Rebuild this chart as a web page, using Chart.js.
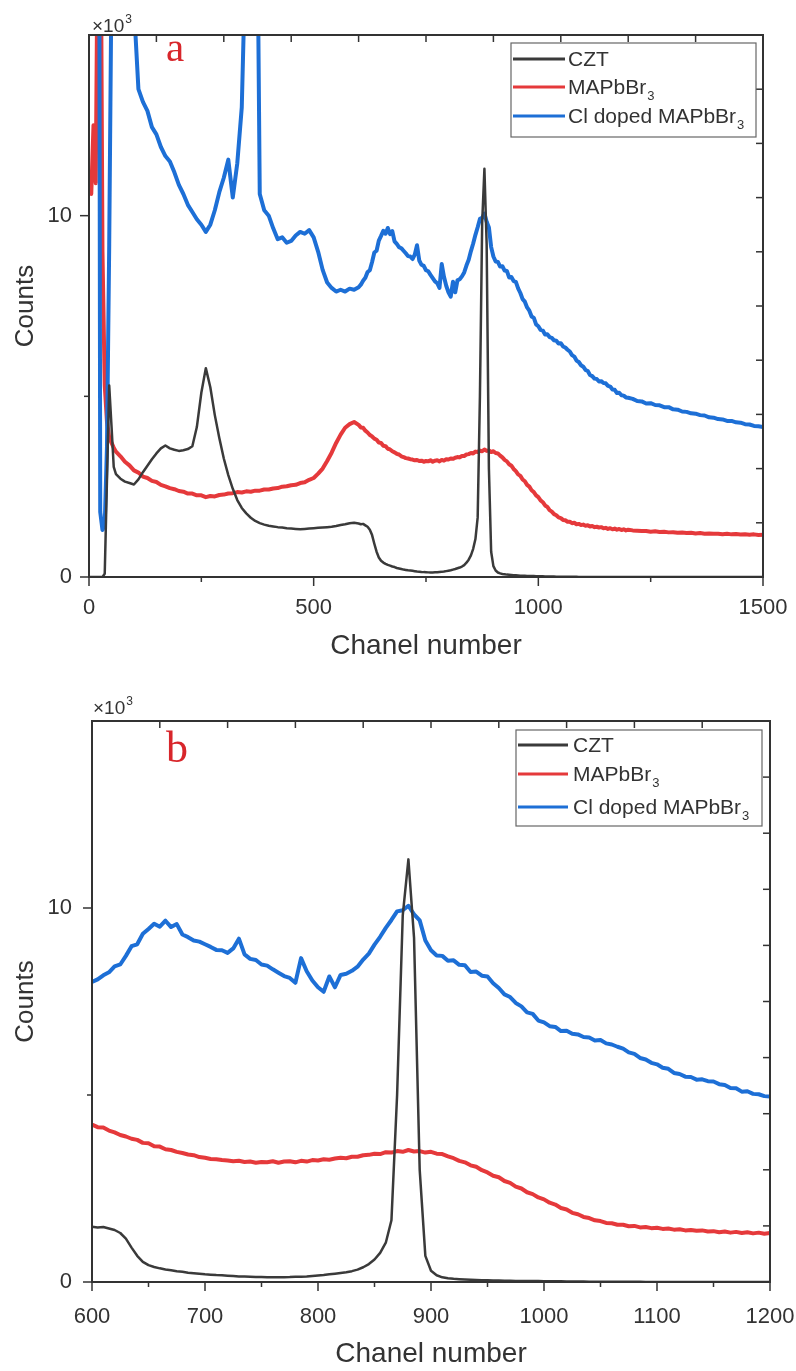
<!DOCTYPE html>
<html>
<head>
<meta charset="utf-8">
<script src="https://cdn.jsdelivr.net/npm/chart.js@4.4.1/dist/chart.umd.min.js"></script>
<style>
  html, body { margin: 0; padding: 0; background: #ffffff; }
  #wrap { position: relative; width: 796px; height: 1371px; }
  canvas { position: absolute; left: 0; }
  #specA { top: 0; }
  #specB { top: 690px; }
</style>
</head>
<body>
<div id="wrap">
  <canvas id="specA" width="796" height="690" style="width:796px;height:690px"></canvas>
  <canvas id="specB" width="796" height="681" style="width:796px;height:681px"></canvas>
</div>
<script>
// ---- channel grid: finer sampling around the photopeak window ----
function span(from, to, step) {
  const out = [];
  for (let c = from; c <= to; c += step) out.push(c);
  return out;
}
const channels = [].concat(span(0, 60, 5), span(70, 590, 10), span(600, 1200, 5), span(1210, 1500, 10));

// ---- series names ----
const seriesNames = ['CZT', 'MAPbBr₃', 'Cl doped MAPbBr₃'];

// ---- counts per channel (same order as `channels`) ----
const cztCounts = [
  // 0 - 60
  0, 0, 0, 0, 0, 0, 0, 90, 2700, 5300, 4200, 3050, 2850,
  // 70 - 590
  2720, 2640, 2600, 2560, 2700, 2900, 3080, 3260, 3420, 3560,
  3640, 3560, 3520, 3490, 3510, 3540, 3620, 4150, 5100, 5780,
  5250, 4480, 3850, 3280, 2820, 2440, 2130, 1910, 1760, 1640,
  1550, 1490, 1450, 1420, 1400, 1380, 1370, 1350, 1340, 1330,
  1320, 1330, 1340, 1350, 1360, 1370, 1380, 1390, 1410, 1440,
  1460, 1490, 1500,
  // 600 - 1200
  1480, 1460, 1470, 1430, 1390, 1310, 1160, 920, 700, 540,
  450, 400, 365, 335, 315, 290, 275, 250, 235, 220,
  205, 195, 185, 180, 170, 160, 150, 148, 140, 135,
  132, 128, 125, 127, 130, 132, 138, 142, 150, 162,
  175, 188, 205, 222, 242, 262, 290, 330, 395, 480,
  600, 780, 1050, 1650, 5000, 9800, 11300, 9200, 3000, 700,
  300, 180, 125, 100, 85, 75, 66, 60, 55, 50,
  46, 42, 38, 35, 32, 30, 28, 26, 25, 24,
  22, 20, 18, 17, 15, 14, 12, 11, 10, 9,
  8, 7, 6, 6, 5, 5, 4, 4, 3, 3,
  3, 2, 2, 2, 2, 2, 1, 1, 1, 1,
  1, 1, 1, 0, 0, 0, 0, 0, 0, 0,
  0,
  // 1210 - 1500
  0, 0, 0, 0, 0, 0, 0, 0, 0, 0,
  0, 0, 0, 0, 0, 0, 0, 0, 0, 0,
  0, 0, 0, 0, 0, 0, 0, 0, 0, 0
];

const mapbbr3Counts = [
  // 0 - 60
  null, 10600, 12500, 10900, 19000, 21000, 9000, 5300, 4300, 3850, 3720, 3580, 3470,
  // 70 - 590
  3340, 3190, 3090, 2950, 2890, 2780, 2740, 2660, 2630, 2550,
  2510, 2460, 2430, 2380, 2360, 2310, 2310, 2260, 2260, 2210,
  2240, 2230, 2270, 2280, 2310, 2320, 2350, 2340, 2370, 2360,
  2390, 2390, 2420, 2420, 2450, 2460, 2500, 2510, 2540, 2550,
  2600, 2620, 2690, 2740, 2860, 3000, 3210, 3440, 3710, 3940,
  4130, 4230, 4290,
  // 600 - 1200
  4210, 4140, 4130, 4050, 4000, 3930, 3890, 3830, 3800, 3720,
  3710, 3630, 3620, 3550, 3530, 3480, 3450, 3410, 3390, 3340,
  3320, 3290, 3280, 3260, 3250, 3230, 3240, 3210, 3220, 3190,
  3210, 3200, 3230, 3190, 3220, 3230, 3200, 3240, 3220, 3260,
  3250, 3280, 3270, 3300, 3320, 3310, 3350, 3350, 3390, 3400,
  3430, 3420, 3470, 3460, 3500, 3480, 3530, 3490, 3500, 3460,
  3480, 3430, 3420, 3360, 3310, 3240, 3200, 3120, 3080, 2990,
  2930, 2840, 2800, 2700, 2650, 2550, 2500, 2400, 2350, 2260,
  2210, 2120, 2070, 1980, 1940, 1850, 1810, 1740, 1710, 1650,
  1630, 1580, 1570, 1530, 1530, 1490, 1500, 1460, 1470, 1440,
  1450, 1420, 1430, 1400, 1410, 1380, 1390, 1370, 1380, 1350,
  1360, 1330, 1350, 1320, 1340, 1310, 1330, 1300, 1320, 1290,
  1310,
  // 1210 - 1500
  1290, 1280, 1270, 1275, 1255, 1265, 1245, 1250, 1235, 1240,
  1225, 1230, 1215, 1225, 1205, 1215, 1200, 1205, 1195, 1200,
  1185, 1195, 1180, 1190, 1175, 1180, 1170, 1180, 1165, 1170
];

const clDopedCounts = [
  // 0 - 60
  null, null, null, null, 40000, 1800, 1300, 1450, 3600, 9200, 16500, 30000, 40000,
  // 70 - 590
  45000, 40000, 30000, 15800, 13500, 13150, 12900, 12450, 12250, 11900,
  11650, 11500, 11200, 10850, 10600, 10300, 10100, 9900, 9750, 9550,
  9750, 10150, 10650, 11050, 11550, 10500, 11450, 13000, 18000, 40000,
  25000, 10600, 10150, 10000, 9650, 9350, 9400, 9250, 9300, 9450,
  9550, 9500, 9600, 9400, 9000, 8500, 8150, 8000, 7900, 7950,
  7900, 7980, 7950,
  // 600 - 1200
  8020, 8090, 8200, 8280, 8440, 8490, 8720, 8980, 9030, 9310,
  9440, 9580, 9500, 9660, 9490, 9570, 9290, 9220, 9130, 9100,
  9030, 8960, 8880, 8870, 8800, 8920, 9180, 8760, 8640, 8610,
  8490, 8460, 8360, 8270, 8180, 8130, 8000, 8660, 8310, 8060,
  7880, 7760, 8170, 7880, 8210, 8240, 8320, 8430, 8620, 8780,
  9020, 9230, 9470, 9680, 9910, 9940, 10060, 9830, 9670, 9130,
  8870, 8730, 8720, 8590, 8600, 8480, 8470, 8290, 8300, 8190,
  8170, 7990, 7860, 7690, 7620, 7460, 7370, 7210, 7170, 6990,
  6940, 6840, 6820, 6710, 6720, 6640, 6620, 6550, 6540, 6460,
  6470, 6380, 6350, 6290, 6240, 6140, 6100, 5990, 5950, 5860,
  5820, 5730, 5700, 5590, 5560, 5490, 5480, 5410, 5420, 5370,
  5360, 5290, 5270, 5190, 5180, 5090, 5100, 5030, 5020, 4970,
  4960,
  // 1210 - 1500
  4930, 4870, 4860, 4800, 4810, 4760, 4750, 4700, 4700, 4640,
  4630, 4580, 4570, 4530, 4520, 4480, 4470, 4420, 4410, 4370,
  4360, 4320, 4320, 4280, 4270, 4230, 4220, 4180, 4170, 4150
];

// ---- axis tick values ----
const countMajorTicks = [0, 10000];
const countMinorTicks = [5000];
const countInnerTicks = [1500, 3000, 4500, 6000, 7500, 9000, 10500, 12000, 13500];

const fullMajorTicks = [0, 500, 1000, 1500];
const fullMinorTicks = [250, 750, 1250];
const fullInnerTicks = [150, 300, 450, 600, 750, 900, 1050, 1200, 1350];

const zoomMajorTicks = [600, 700, 800, 900, 1000, 1100, 1200];
const zoomMinorTicks = [650, 750, 850, 950, 1050, 1150];
const zoomInnerTicks = [660, 720, 780, 840, 900, 960, 1020, 1080, 1140];

// ---- styling ----
const FONT = "'Liberation Sans', Arial, sans-serif";
const SERIF = "'Liberation Serif', 'Times New Roman', serif";
const INK = '#333333';
const LINE_COLORS = ['#3a3a3a', '#e5393b', '#1d6fd6'];
const LINE_WIDTHS = [2.5, 4, 4];
const DRAW_ORDER = [0, 2, 1];

Chart.defaults.font.family = FONT;
Chart.defaults.color = INK;

// draws text where "₃"/"³" become a lowered/raised small "3"
function drawRichText(ctx, text, x, y, size, family) {
  let cx = x;
  for (const part of text.split(/([₃³])/)) {
    if (!part) continue;
    if (part === '₃' || part === '³') {
      const s = Math.round(size * 0.64);
      ctx.font = `${s}px ${family}`;
      const dy = part === '₃' ? size * 0.28 : -size * 0.45;
      ctx.fillText('3', cx + 1, y + dy);
      cx += ctx.measureText('3').width + 1;
    } else {
      ctx.font = `${size}px ${family}`;
      ctx.fillText(part, cx, y);
      cx += ctx.measureText(part).width;
    }
  }
}

// frame box plus tick marks (outer on bottom/left, inner on top/right)
const frameTicks = {
  id: 'frameTicks',
  afterDraw(chart, args, o) {
    const { ctx, chartArea: a, scales: { x, y } } = chart;
    ctx.save();
    ctx.strokeStyle = INK;
    ctx.lineWidth = 1.5;
    const v = (px, y0, y1) => { ctx.beginPath(); ctx.moveTo(px, y0); ctx.lineTo(px, y1); ctx.stroke(); };
    const h = (py, x0, x1) => { ctx.beginPath(); ctx.moveTo(x0, py); ctx.lineTo(x1, py); ctx.stroke(); };
    o.xMajor.forEach(t => v(x.getPixelForValue(t), a.bottom, a.bottom + 9));
    o.xMinor.forEach(t => v(x.getPixelForValue(t), a.bottom, a.bottom + 5));
    o.xInner.forEach(t => v(x.getPixelForValue(t), a.top, a.top + 7));
    o.yMajor.forEach(t => h(y.getPixelForValue(t), a.left - 9, a.left));
    o.yMinor.forEach(t => h(y.getPixelForValue(t), a.left - 5, a.left));
    o.yInner.forEach(t => h(y.getPixelForValue(t), a.right - 7, a.right));
    ctx.lineWidth = 2;
    ctx.strokeRect(a.left, a.top, a.right - a.left, a.bottom - a.top);
    ctx.restore();
  }
};

// boxed legend inside the plot with line samples
const boxLegend = {
  id: 'boxLegend',
  afterDraw(chart, args, o) {
    const { ctx } = chart;
    ctx.save();
    ctx.fillStyle = '#ffffff';
    ctx.fillRect(o.box[0], o.box[1], o.box[2], o.box[3]);
    ctx.strokeStyle = '#666666';
    ctx.lineWidth = 1.2;
    ctx.strokeRect(o.box[0], o.box[1], o.box[2], o.box[3]);
    chart.data.datasets.forEach((ds, i) => {
      const ry = o.rows[i];
      ctx.strokeStyle = ds.borderColor;
      ctx.lineWidth = 3;
      ctx.beginPath();
      ctx.moveTo(o.lineX[0], ry);
      ctx.lineTo(o.lineX[1], ry);
      ctx.stroke();
      ctx.fillStyle = INK;
      ctx.textBaseline = 'alphabetic';
      drawRichText(ctx, ds.label, o.textX, ry + 7, o.size, FONT);
    });
    ctx.restore();
  }
};

// exponent note and panel letter
const panelText = {
  id: 'panelText',
  afterDraw(chart, args, o) {
    const { ctx } = chart;
    ctx.save();
    ctx.textBaseline = 'alphabetic';
    ctx.fillStyle = INK;
    drawRichText(ctx, '×10³', o.expo[0], o.expo[1], 19, FONT);
    ctx.fillStyle = '#d8262b';
    ctx.font = `${o.letterSize}px ${SERIF}`;
    ctx.fillText(o.letter, o.letterPos[0], o.letterPos[1]);
    ctx.restore();
  }
};

function buildSpectrum(canvasId, c) {
  const points = arr => channels.map((ch, i) => ({ x: ch, y: arr[i] }));
  const series = [cztCounts, mapbbr3Counts, clDopedCounts];
  return new Chart(document.getElementById(canvasId), {
    type: 'line',
    data: {
      datasets: series.map((arr, i) => ({
        label: seriesNames[i],
        data: points(arr),
        borderColor: LINE_COLORS[i],
        borderWidth: LINE_WIDTHS[i],
        order: DRAW_ORDER[i],
        pointRadius: 0,
        tension: 0,
        clip: 0,
        borderJoinStyle: 'round',
        borderCapStyle: 'round',
        spanGaps: false
      }))
    },
    options: {
      responsive: false,
      animation: false,
      devicePixelRatio: 1,
      events: [],
      layout: { padding: { left: 0, top: c.padTop, right: c.padRight, bottom: 0 } },
      plugins: {
        legend: { display: false },
        tooltip: { enabled: false },
        frameTicks: { xMajor: c.xMajor, xMinor: c.xMinor, xInner: c.xInner,
                      yMajor: countMajorTicks, yMinor: countMinorTicks, yInner: countInnerTicks },
        boxLegend: c.legend,
        panelText: c.text
      },
      scales: {
        x: {
          type: 'linear',
          position: 'bottom',
          min: c.xMin, max: c.xMax,
          grid: { display: false, drawTicks: false },
          border: { display: false },
          ticks: { stepSize: c.xStep, autoSkip: false, maxRotation: 0, padding: c.xTickPad,
                   color: INK, font: { size: 22 }, callback: val => String(val) },
          title: { display: true, text: 'Chanel number', color: INK,
                   font: { size: 28 }, padding: { top: 0, bottom: c.xTitlePad } },
          afterFit: s => { s.height = c.xHeight; s.paddingLeft = 0; s.paddingRight = 0; }
        },
        y: {
          type: 'linear',
          min: 0, max: 15000,
          grid: { display: false, drawTicks: false },
          border: { display: false },
          ticks: { stepSize: 5000, padding: c.yTickPad, color: INK, font: { size: 22 },
                   callback: val => (val % 10000 === 0 ? String(val / 1000) : '') },
          title: { display: true, text: 'Counts', color: INK,
                   font: { size: 26 }, padding: { top: 10, bottom: 0 } },
          afterFit: s => { s.width = c.yWidth; s.paddingTop = 0; s.paddingBottom = 0; }
        }
      }
    },
    plugins: [frameTicks, boxLegend, panelText]
  });
}

// full spectrum
buildSpectrum('specA', {
  padTop: 35, padRight: 33, yWidth: 89, xHeight: 113,
  xMin: 0, xMax: 1500, xStep: 500,
  xMajor: fullMajorTicks, xMinor: fullMinorTicks, xInner: fullInnerTicks,
  xTickPad: 18, xTitlePad: 27, yTickPad: 17,
  legend: { box: [511, 43, 245, 94], rows: [59, 87, 116], lineX: [513, 565], textX: 568, size: 21 },
  text: { expo: [92, 32], letter: 'a', letterSize: 41, letterPos: [166, 61] }
});

// photopeak window
buildSpectrum('specB', {
  padTop: 31, padRight: 26, yWidth: 92, xHeight: 89,
  xMin: 600, xMax: 1200, xStep: 100,
  xMajor: zoomMajorTicks, xMinor: zoomMinorTicks, xInner: zoomInnerTicks,
  xTickPad: 22, xTitlePad: 0, yTickPad: 20,
  legend: { box: [516, 40, 246, 96], rows: [55, 84, 117], lineX: [518, 568], textX: 573, size: 21 },
  text: { expo: [93, 24], letter: 'b', letterSize: 44, letterPos: [166, 72] }
});
</script>
</body>
</html>
